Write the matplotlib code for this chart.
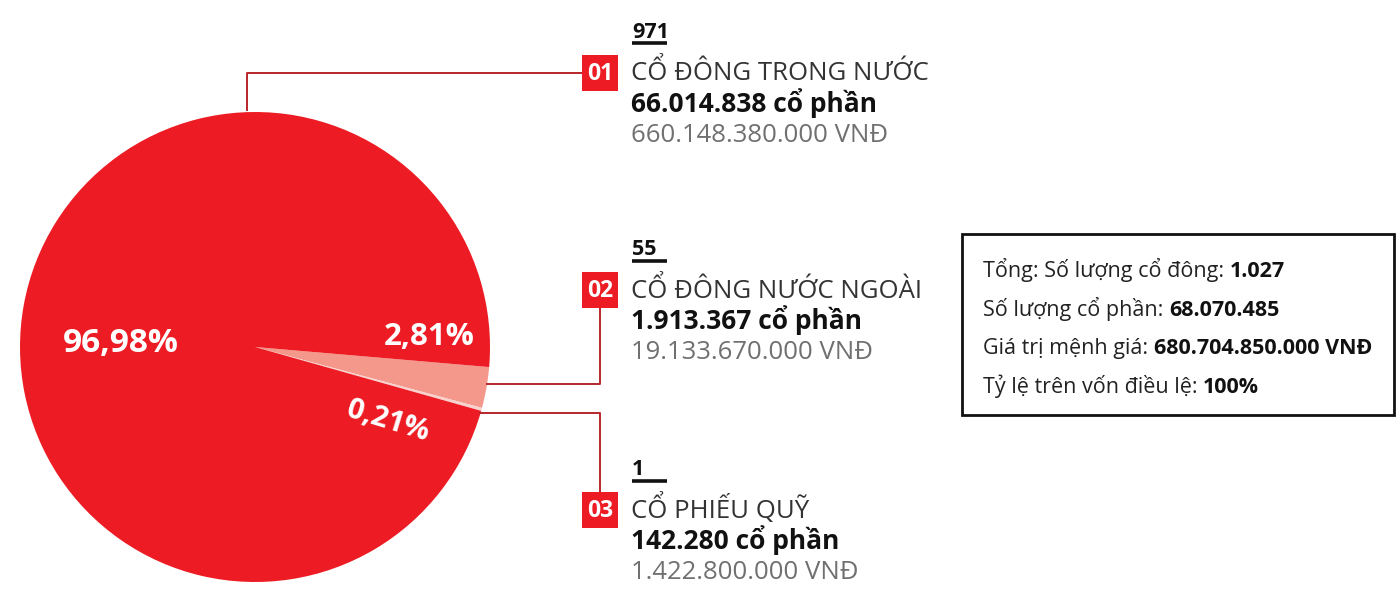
import matplotlib
matplotlib.use("Agg")
import matplotlib.pyplot as plt
from matplotlib.patches import Rectangle

# ---------------- data ----------------
categories = ["CỔ ĐÔNG TRONG NƯỚC", "CỔ ĐÔNG NƯỚC NGOÀI", "CỔ PHIẾU QUỸ"]
codes = ["01", "02", "03"]
holders = ["971", "55", "1"]
shares = [66014838, 1913367, 142280]
share_labels = ["66.014.838 cổ phần", "1.913.367 cổ phần", "142.280 cổ phần"]
values_vnd = ["660.148.380.000 VNĐ", "19.133.670.000 VNĐ", "1.422.800.000 VNĐ"]
pct_labels = ["96,98%", "2,81%", "0,21%"]

summary_labels = ["Tổng: Số lượng cổ đông: ", "Số lượng cổ phần: ",
                  "Giá trị mệnh giá: ", "Tỷ lệ trên vốn điều lệ: "]
summary_values = ["1.027", "68.070.485", "680.704.850.000 VNĐ", "100%"]

colors = ["#ED1C24", "#F3988A", "#FAD2CD"]
LINE = "#B8262C"
FAM = ["Open Sans", "Noto Sans", "DejaVu Sans"]

W, H = 1396, 596
fig = plt.figure(figsize=(W / 100, H / 100), dpi=100)
ax = fig.add_axes([0, 0, 1, 1])


def Y(y):
    return H - y


# pie: order so small slices are on the right, just below horizontal
order = [1, 2, 0]
cx, cy, r = 255, 347, 235
ax.pie([shares[i] for i in order], colors=[colors[i] for i in order],
       startangle=-4.9, counterclock=False, center=(cx, Y(cy)), radius=r,
       wedgeprops=dict(linewidth=0))
ax.set_xlim(0, W)
ax.set_ylim(0, H)
ax.set_aspect("auto")
ax.axis("off")

# percentage labels
ax.text(121, Y(343), pct_labels[0], color="white", fontsize=24, fontweight="bold",
        family=FAM, ha="center", va="center")
ax.text(429, Y(337), pct_labels[1], color="white", fontsize=22.5, fontweight="bold",
        family=FAM, ha="center", va="center")
ax.text(388, Y(421), pct_labels[2], color="white", fontsize=21, fontweight="bold",
        family=FAM, ha="center", va="center", rotation=-17, rotation_mode="anchor")

# leader lines
lw = 1.4
ax.plot([247, 247, 582], [Y(111), Y(72.5), Y(72.5)], color=LINE, lw=lw, solid_capstyle="butt")
ax.plot([486, 600, 600], [Y(384), Y(384), Y(308)], color=LINE, lw=lw, solid_capstyle="butt")
ax.plot([479, 600, 600], [Y(413), Y(413), Y(492)], color=LINE, lw=lw, solid_capstyle="butt")

# category blocks
box_cy = [72.5, 290, 510]
for i in range(3):
    yc = box_cy[i]
    ax.add_patch(Rectangle((582, Y(yc + 18)), 36, 36, color="#ED1C24", lw=0))
    ax.text(600, Y(yc + 1), codes[i], color="white", fontsize=16.5, fontweight="bold",
            family=FAM, ha="center", va="center")
    # holders count with underline
    ax.text(632, Y(yc - 35), holders[i], color="#111111", fontsize=15.5, fontweight="bold",
            family=FAM, ha="left", va="baseline")
    ax.plot([632, 667], [Y(yc - 29.5), Y(yc - 29.5)], color="#111111", lw=2.6,
            solid_capstyle="butt")
    ax.text(631, Y(yc + 8), categories[i], color="#333333", fontsize=18.5, fontweight="normal",
            family=FAM, ha="left", va="baseline")
    ax.text(631, Y(yc + 39), share_labels[i], color="#111111", fontsize=19, fontweight="bold",
            family=FAM, ha="left", va="baseline")
    ax.text(631, Y(yc + 69), values_vnd[i], color="#707070", fontsize=18.5, fontweight="normal",
            family=FAM, ha="left", va="baseline")

# summary box
ax.add_patch(Rectangle((962, Y(415)), 432, 181, fill=False, edgecolor="#111111", lw=2))
sum_y = [277, 316, 354, 393]
for lab, val, yy in zip(summary_labels, summary_values, sum_y):
    t = ax.text(983, Y(yy), lab, color="#222222", fontsize=15.5, fontweight="normal",
                family=FAM, ha="left", va="baseline")
    ax.annotate(val, xy=(1, 0), xycoords=t, color="#111111", fontsize=15.5,
                fontweight="bold", family=FAM, ha="left", va="bottom")

fig.savefig("out.png", dpi=100)
